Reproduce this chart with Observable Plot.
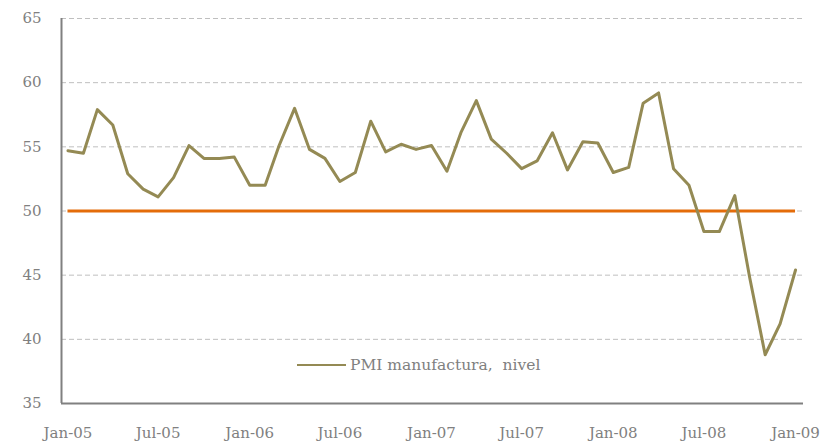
<!DOCTYPE html>
<html><head><meta charset="utf-8">
<script src="https://cdn.jsdelivr.net/npm/d3@7"></script>
<script src="https://cdn.jsdelivr.net/npm/@observablehq/plot@0.6"></script>
<style>
body{margin:0;background:#fff}
#wrap{position:relative;width:825px;height:445px;font-family:"DejaVu Serif",serif}
#legend{position:absolute;left:297px;top:356px;font-size:15.5px;color:#808080;display:flex;align-items:center;white-space:pre}
#legend span.sw{display:inline-block;width:49px;height:2px;background:#948A54;margin-right:4px}
</style>
</head><body><div id="wrap"><div id="legend"><span class="sw"></span><span>PMI manufactura,  nivel</span></div></div>
<script>
const months = [
"2005-01","2005-02","2005-03","2005-04","2005-05","2005-06","2005-07","2005-08","2005-09","2005-10","2005-11","2005-12",
"2006-01","2006-02","2006-03","2006-04","2006-05","2006-06","2006-07","2006-08","2006-09","2006-10","2006-11","2006-12",
"2007-01","2007-02","2007-03","2007-04","2007-05","2007-06","2007-07","2007-08","2007-09","2007-10","2007-11","2007-12",
"2008-01","2008-02","2008-03","2008-04","2008-05","2008-06","2008-07","2008-08","2008-09","2008-10","2008-11","2008-12",
"2009-01"];
const pmi = [
54.7,54.5,57.9,56.7,52.9,51.7,51.1,52.6,55.1,54.1,54.1,54.2,
52.0,52.0,55.1,58.0,54.8,54.1,52.3,53.0,57.0,54.6,55.2,54.8,
55.1,53.1,56.1,58.6,55.6,54.5,53.3,53.9,56.1,53.2,55.4,55.3,
53.0,53.4,58.4,59.2,53.3,52.0,48.4,48.4,51.2,44.8,38.8,41.2,
45.4];
const threshold = 50;
const yTicks = [35,40,45,50,55,60,65];
const xTickMonths = ["2005-01","2005-07","2006-01","2006-07","2007-01","2007-07","2008-01","2008-07","2009-01"];
const xTickLabels = ["Jan-05","Jul-05","Jan-06","Jul-06","Jan-07","Jul-07","Jan-08","Jul-08","Jan-09"];

const parse = d3.utcParse("%Y-%m");
const data = months.map((m, i) => ({date: parse(m), value: pmi[i]}));
const first = data[0].date, last = data[data.length - 1].date;
const xDomain = [d3.utcDay.offset(first, -13), d3.utcDay.offset(last, 16)];
const tickDates = xTickMonths.map(parse);
const labelOf = new Map(tickDates.map((d, i) => [+d, xTickLabels[i]]));

const chart = Plot.plot({
  width: 825, height: 445,
  marginLeft: 61, marginRight: 22, marginTop: 18, marginBottom: 42,
  style: {fontFamily: '"DejaVu Serif", serif', fontSize: "14px", color: "#808080", background: "#fff"},
  x: {type: "utc", domain: xDomain},
  y: {domain: [35, 65]},
  marks: [
    Plot.gridY(yTicks.filter(t => t > 35), {stroke: "#BFBFBF", strokeOpacity: 1, strokeDasharray: "5,3", strokeWidth: 1}),
    Plot.axisY(yTicks, {tickSize: 0, tickPadding: 20, fill: "#808080", fontSize: 15, label: null}),
    Plot.axisX(tickDates, {tickSize: 0, tickPadding: 24, fill: "#808080", fontSize: 15, label: null, tickFormat: d => labelOf.get(+d)}),
    Plot.ruleY([threshold], {x1: first, x2: last, stroke: "#E46C0A", strokeWidth: 3}),
    Plot.line(data, {x: "date", y: "value", stroke: "#948A54", strokeWidth: 3}),
    Plot.ruleX([xDomain[0]], {stroke: "#808080", strokeWidth: 2}),
    Plot.ruleY([35], {stroke: "#808080", strokeWidth: 2})
  ]
});
document.getElementById("wrap").prepend(chart);
</script>
</body></html>
